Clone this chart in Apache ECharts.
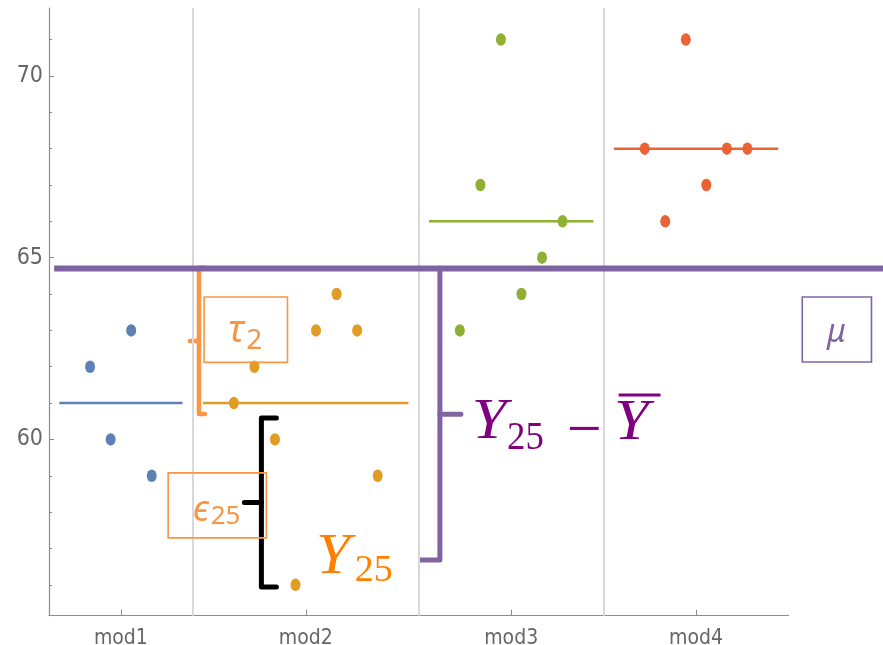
<!DOCTYPE html>
<html>
<head>
<meta charset="utf-8">
<script src="https://cdn.jsdelivr.net/npm/echarts@6/dist/echarts.min.js"></script>
<style>
  html, body { margin: 0; padding: 0; background: #ffffff; }
  #chart { width: 883px; height: 645px; }
</style>
</head>
<body>
<div id="chart"></div>
<script>
// ---- data ----
const categories = ['mod1', 'mod2', 'mod3', 'mod4'];
const groupColors = ['#5E81B5', '#E19C24', '#8FB032', '#EB6235'];
// observations of each group, in plotting order
const mod1Values = [62, 60, 63, 59];
const mod2Values = [61, 62, 60, 56, 63, 64, 63, 59];
const mod3Values = [63, 67, 71, 64, 65, 66];
const mod4Values = [68, 66, 71, 67, 68, 68];
// first observation slot of each group along the x axis
const groupStartSlots = [1, 8, 19, 28];
const yTickLabels = [60, 65, 70];
const yMinorTicks = [56, 57, 58, 59, 60, 61, 62, 63, 64, 65, 66, 67, 68, 69, 70, 71];
const grandMean = 64.7;

const groupValues = [mod1Values, mod2Values, mod3Values, mod4Values];

// ---- derived layout of the groups ----
const groups = groupValues.map((vals, k) => {
  const start = groupStartSlots[k];
  const end = start + vals.length - 1;
  const mean = vals.reduce((a, b) => a + b, 0) / vals.length;
  return {
    name: categories[k],
    color: groupColors[k],
    start, end, mean,
    center: (start + end) / 2,
    points: vals.map((v, j) => [start + j, v])
  };
});
const dividers = groups.slice(1).map((g, k) => (groups[k].end + g.start) / 2);
const tickPositions = groups.map(g => g.center);

const axisFont = '"Liberation Sans Narrow", "DejaVu Sans Condensed", "Liberation Sans", sans-serif';
const axisGrey = '#666666';
const axisLineColor = '#8c8c8c';

const chart = echarts.init(document.getElementById('chart'), null, { renderer: 'canvas' });

const series = [];
// dividers between groups
series.push({
  type: 'line', data: [], silent: true,
  markLine: {
    silent: true, symbol: 'none', label: { show: false },
    lineStyle: { color: '#d9d9d9', width: 2, type: 'solid' },
    data: dividers.map(d => ({ xAxis: d }))
  },
  z: 1
});
// group means
groups.forEach(g => {
  series.push({
    type: 'line', name: g.name + ' mean',
    data: [[g.start - 1.5, g.mean], [g.end + 1.5, g.mean]],
    showSymbol: false, silent: true,
    lineStyle: { color: g.color, width: 2.5 },
    z: 2
  });
});
// observations
groups.forEach(g => {
  series.push({
    type: 'scatter', name: g.name,
    data: g.points,
    symbol: 'circle', symbolSize: [10, 12.5],
    itemStyle: { color: g.color, opacity: 1 },
    z: 4
  });
});

const nameOf = v => {
  const i = tickPositions.findIndex(t => Math.abs(t - v) < 1e-6);
  return i >= 0 ? categories[i] : '';
};

chart.setOption({
  animation: false,
  backgroundColor: '#ffffff',
  grid: { left: 49, right: 94.5, top: 8, bottom: 29.3, outerBoundsMode: 'none' },
  xAxis: {
    type: 'value', min: -1, max: 35,
    axisLine: { show: true, onZero: false, lineStyle: { color: axisLineColor, width: 1.2 } },
    axisTick: { show: true, inside: true, length: 6, customValues: tickPositions, lineStyle: { color: axisLineColor } },
    axisLabel: { show: true, customValues: tickPositions, formatter: v => nameOf(v), color: axisGrey, fontFamily: axisFont, fontSize: 21, margin: 12 },
    splitLine: { show: false }
  },
  yAxis: [
    {
      type: 'value', min: 55.15, max: 71.87,
      axisLine: { show: true, onZero: false, lineStyle: { color: axisLineColor, width: 1.2 } },
      axisTick: { show: true, inside: true, length: 5, customValues: yTickLabels, lineStyle: { color: axisLineColor } },
      axisLabel: { show: true, customValues: yTickLabels, color: axisGrey, fontFamily: axisFont, fontSize: 23, margin: 6 },
      splitLine: { show: false }
    },
    {
      type: 'value', min: 55.15, max: 71.87, position: 'left', offset: 0,
      axisLine: { show: false, onZero: false },
      axisTick: { show: true, inside: true, length: 3, customValues: yMinorTicks, lineStyle: { color: axisLineColor } },
      axisLabel: { show: false },
      splitLine: { show: false }
    }
  ],
  series: series
});

// ---- overall mean and annotations, anchored in data coordinates ----
const toPx = (x, y) => chart.convertToPixel({ xAxisIndex: 0, yAxisIndex: 0 }, [x, y]);

function brace(b) {
  const [x, yTop] = toPx(b.x, b.top);
  const [, yBot] = toPx(b.x, b.bottom);
  const yMid = (yTop + yBot) / 2;
  return {
    type: 'group', z: 20, children: [
      { type: 'polyline', shape: { points: [[x + b.arm, yTop], [x, yTop], [x, yBot], [x + b.arm, yBot]] },
        style: { stroke: b.color, lineWidth: b.width, fill: null, lineJoin: 'round', lineCap: 'round' } },
      { type: 'line', shape: { x1: x, y1: yMid, x2: x + b.tip, y2: yMid },
        style: { stroke: b.color, lineWidth: b.width, lineCap: 'round' } }
    ]
  };
}

function box(b) {
  const [x1, y1] = toPx(b.x1, b.y1);
  const [x2, y2] = toPx(b.x2, b.y2);
  return { type: 'rect', z: 20, shape: { x: x1, y: y1, width: x2 - x1, height: y2 - y1 },
    style: { fill: null, stroke: b.color, lineWidth: 1.6 } };
}

function label(t) {
  const [x, y] = toPx(t.x, t.y);
  return { type: 'text', z: 21, x: x, y: y, scaleX: t.scaleX || 1, style: {
    text: t.text, x: 0, y: 0, fill: t.color,
    font: t.font, align: t.align || 'left', verticalAlign: 'middle'
  } };
}

const orangeSoft = '#F79646';
const purple = '#8064A2';
const serif = '"Liberation Serif", "DejaVu Serif", serif';
const sans = '"Noto Sans", "Open Sans", sans-serif';

const graphics = [];
// overall mean line, running past the right end of the axis
(function () {
  const [x1, y] = toPx(-0.75, grandMean);
  graphics.push({ type: 'line', z: 10, shape: { x1: x1, y1: y, x2: 883, y2: y },
    style: { stroke: purple, lineWidth: 6 } });
})();

graphics.push(
  brace({ x: 6.30, top: 64.72, bottom: 60.70, arm: 6, tip: -9, width: 4.5, color: orangeSoft }),
  brace({ x: 9.34, top: 60.59, bottom: 55.94, arm: 15, tip: -17, width: 5, color: '#000000' }),
  brace({ x: 18.03, top: 64.70, bottom: 56.68, arm: -19, tip: 21, width: 5, color: purple }),

  box({ x1: 6.55, y1: 63.92, x2: 10.61, y2: 62.12, color: orangeSoft }),
  box({ x1: 4.80, y1: 59.08, x2: 9.58, y2: 57.29, color: orangeSoft }),
  box({ x1: 35.67, y1: 63.92, x2: 39.04, y2: 62.13, color: purple }),

  label({ text: 'τ', x: 7.72, y: 62.97, color: orangeSoft, font: 'italic 38px ' + sans }),
  label({ text: '2', x: 8.60, y: 62.72, color: orangeSoft, font: '28px ' + sans }),
  label({ text: 'ϵ', x: 6.0, y: 58.05, color: orangeSoft, font: 'italic 36px ' + sans }),
  label({ text: '25', x: 6.87, y: 57.88, color: orangeSoft, font: '26px ' + sans }),
  label({ text: 'μ', x: 36.88, y: 62.93, color: purple, font: 'italic 32px ' + sans }),

  label({ text: 'Y', x: 12.0, y: 56.74, color: '#FF7F00', font: 'italic 56px ' + serif, scaleX: 1.1 }),
  label({ text: '25', x: 13.88, y: 56.39, color: '#FF7F00', font: '38px ' + serif }),

  label({ text: 'Y', x: 19.58, y: 60.46, color: '#800080', font: 'italic 58px ' + serif, scaleX: 1.08 }),
  label({ text: '25', x: 21.30, y: 60.02, color: '#800080', font: '40px ' + serif, scaleX: 0.92 }),
  label({ text: '−', x: 25.05, y: 60.18, color: '#800080', font: '62px ' + serif, align: 'center' }),
  label({ text: 'Y', x: 26.50, y: 60.43, color: '#800080', font: 'italic 58px ' + serif, scaleX: 1.08 })
);
// bar over the mean symbol
(function () {
  const [x1, y] = toPx(26.73, 61.22);
  const [x2] = toPx(28.77, 61.22);
  graphics.push({ type: 'line', z: 21, shape: { x1: x1, y1: y, x2: x2, y2: y }, style: { stroke: '#800080', lineWidth: 3 } });
})();

chart.setOption({ graphic: graphics });
</script>
</body>
</html>
